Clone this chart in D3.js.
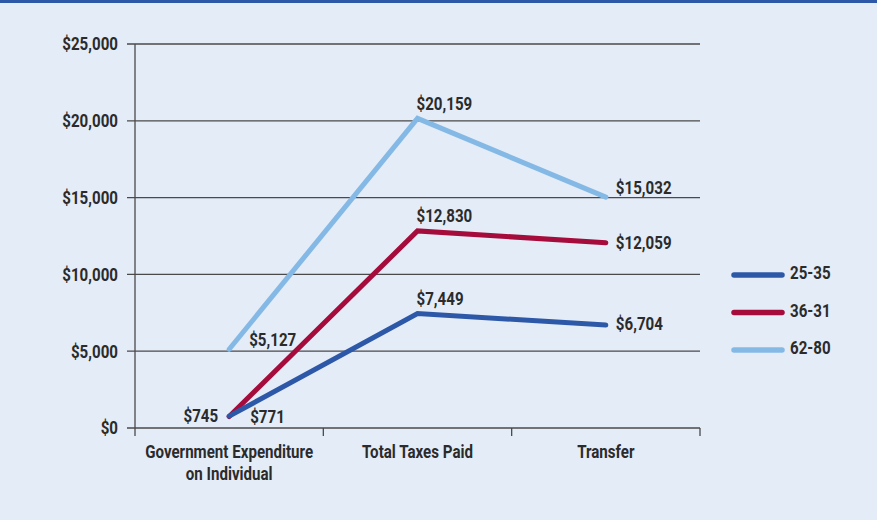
<!DOCTYPE html>
<html>
<head>
<meta charset="utf-8">
<script src="https://cdn.jsdelivr.net/npm/d3@7"></script>
<style>
  body { margin: 0; background: #e4ecf8; }
  svg { display: block; }
  text { font-family: "Roboto", "Liberation Sans", sans-serif; font-weight: bold; fill: #2b2b2b; font-size: 18px; }
</style>
</head>
<body>
<svg id="chart" width="877" height="520"></svg>
<script>
const categories = ['Government Expenditure\non Individual', 'Total Taxes Paid', 'Transfer'];
const seriesNames = ['25-35', '36-31', '62-80'];
const seriesColors = ['#2d58a8', '#a50c3c', '#85b9e5'];
const values25 = [771, 7449, 6704];
const values36 = [745, 12830, 12059];
const values62 = [5127, 20159, 15032];
const yTicks = [0, 5000, 10000, 15000, 20000, 25000];

const series = [values25, values36, values62];

const svg = d3.select('#chart');
const margin = { left: 135, right: 177, top: 44, bottom: 92 };
const width = 877 - margin.left - margin.right;
const height = 520 - margin.top - margin.bottom;

// condensed look: no narrow face installed, so squeeze the text horizontally
const squeeze = 0.84;
const at = (px, py) => `translate(${px},${py}) scale(${squeeze},1)`;

svg.append('rect').attr('width', 877).attr('height', 520).attr('fill', '#e4ecf8');
svg.append('rect').attr('width', 877).attr('height', 3).attr('fill', '#2d58a8');

const g = svg.append('g').attr('transform', `translate(${margin.left},${margin.top})`);

const x = d3.scaleBand().domain(categories).range([0, width]);
const y = d3.scaleLinear().domain([0, 25000]).range([height, 0]);
const fmt = d3.format('$,');

// grid lines
g.append('g')
  .selectAll('line')
  .data(yTicks)
  .enter()
  .append('line')
  .attr('x1', -8).attr('x2', width)
  .attr('y1', d => y(d)).attr('y2', d => y(d))
  .attr('stroke', '#4a4a4a').attr('stroke-width', 1.3);

g.append('g')
  .selectAll('text')
  .data(yTicks)
  .enter()
  .append('text')
  .attr('transform', d => at(-17, y(d)))
  .attr('dy', '0.35em')
  .attr('text-anchor', 'end')
  .text(d => fmt(d));

// y axis line
g.append('line')
  .attr('x1', 0).attr('x2', 0).attr('y1', 0).attr('y2', height + 8)
  .attr('stroke', '#4a4a4a').attr('stroke-width', 1.3);

// x ticks at band edges
const edges = categories.map(c => x(c)).concat([width]).slice(1);
g.append('g')
  .selectAll('line')
  .data(edges)
  .enter()
  .append('line')
  .attr('x1', d => d).attr('x2', d => d)
  .attr('y1', height).attr('y2', height + 8)
  .attr('stroke', '#4a4a4a').attr('stroke-width', 1.3);

// x labels
g.append('g')
  .selectAll('text')
  .data(categories)
  .enter()
  .append('text')
  .attr('transform', d => at(x(d) + x.bandwidth() / 2, height + 30))
  .attr('text-anchor', 'middle')
  .each(function(d) {
    d.split('\n').forEach((line, i) => {
      d3.select(this).append('tspan')
        .attr('x', 0)
        .attr('dy', i === 0 ? 0 : 22)
        .text(line);
    });
  });

// lines
const line = d3.line()
  .x((d, i) => x(categories[i]) + x.bandwidth() / 2)
  .y(d => y(d));

g.append('g')
  .selectAll('path')
  .data(series.slice().reverse())
  .enter()
  .append('path')
  .attr('d', d => line(d))
  .attr('fill', 'none')
  .attr('stroke', (d, i) => seriesColors[series.length - 1 - i])
  .attr('stroke-width', 5)
  .attr('stroke-linejoin', 'miter')
  .attr('stroke-linecap', 'round');

// value labels
const cx = i => x(categories[i]) + x.bandwidth() / 2;
const labels = [];
series.forEach((s, si) => {
  s.forEach((v, i) => {
    let lx = cx(i) - 1, ly = y(v) - 15, anchor = 'start';
    if (i === 2) { lx = cx(i) + 10; ly = y(v) - 9; }
    if (si === 1 && i === 2) ly = y(v);
    if (si === 0 && i === 2) ly = y(v) - 1;
    if (i === 0) {
      if (si === 0) { lx = cx(i) + 21; ly = y(v) + 1; }
      if (si === 1) { lx = cx(i) - 11; ly = y(v) - 1; anchor = 'end'; }
      if (si === 2) { lx = cx(i) + 20; ly = y(v) - 10; }
    }
    labels.push({ v, lx, ly, anchor });
  });
});
g.append('g')
  .selectAll('text')
  .data(labels)
  .enter()
  .append('text')
  .attr('transform', d => at(d.lx, d.ly))
  .attr('dy', '0.35em')
  .attr('text-anchor', d => d.anchor)
  .text(d => fmt(d.v));

// legend
const legend = svg.append('g').attr('transform', 'translate(734,275)');
const item = legend.selectAll('g')
  .data(seriesNames)
  .enter()
  .append('g')
  .attr('transform', (d, i) => `translate(0,${i * 37.5})`);
item.append('line')
  .attr('x1', 0).attr('x2', 48).attr('y1', 0).attr('y2', 0)
  .attr('stroke', (d, i) => seriesColors[i])
  .attr('stroke-width', 5.5)
  .attr('stroke-linecap', 'round');
item.append('text')
  .attr('transform', at(56, -2))
  .attr('dy', '0.35em')
  .text(d => d);
</script>
</body>
</html>
